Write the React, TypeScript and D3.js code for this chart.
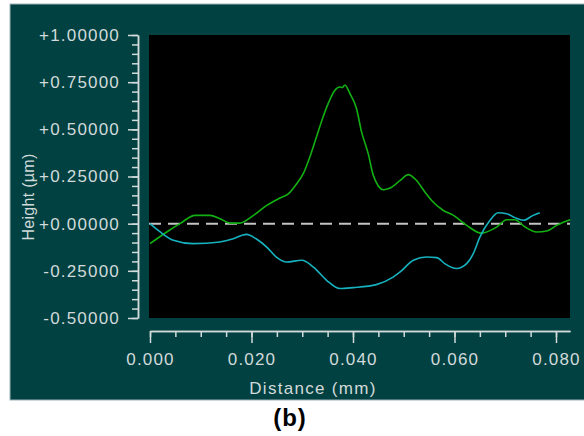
import React, { useEffect, useRef } from 'react';
import * as d3 from 'd3';

// profile traces (distance in mm, height in µm)
const greenDist = [0, 0.0033, 0.0059, 0.0089, 0.0118, 0.0138, 0.0158, 0.0177, 0.0204, 0.023, 0.0256, 0.0273, 0.0289, 0.0302, 0.0315, 0.0328, 0.0341, 0.0351, 0.0364, 0.0374, 0.0379, 0.0384, 0.0394, 0.0407, 0.0417, 0.043, 0.044, 0.046, 0.0473, 0.0493, 0.0509, 0.0522, 0.0542, 0.0555, 0.0578, 0.0598, 0.0624, 0.0653, 0.0683, 0.0703, 0.0719, 0.0739, 0.0762, 0.0782, 0.0801, 0.0828];
const greenHeight = [-0.106, -0.044, 0, 0.044, 0.044, 0.026, 0.003, 0.003, 0.044, 0.097, 0.136, 0.159, 0.212, 0.265, 0.353, 0.459, 0.565, 0.636, 0.706, 0.724, 0.722, 0.735, 0.689, 0.609, 0.485, 0.371, 0.256, 0.18, 0.189, 0.229, 0.26, 0.238, 0.167, 0.123, 0.07, 0.044, -0.009, -0.05, -0.018, 0.021, 0.021, -0.018, -0.044, -0.039, -0.009, 0.021];

const cyanDist = [0, 0.002, 0.0046, 0.0085, 0.0138, 0.0164, 0.019, 0.0209, 0.023, 0.0249, 0.0269, 0.0299, 0.0322, 0.0348, 0.0374, 0.04, 0.0446, 0.0479, 0.0493, 0.0519, 0.0545, 0.0565, 0.0581, 0.0604, 0.0624, 0.0637, 0.065, 0.067, 0.0686, 0.0703, 0.0719, 0.0736, 0.0755, 0.0768];
const cyanHeight = [0, -0.044, -0.088, -0.106, -0.097, -0.08, -0.057, -0.08, -0.124, -0.177, -0.203, -0.194, -0.23, -0.3, -0.344, -0.339, -0.323, -0.283, -0.256, -0.194, -0.177, -0.18, -0.212, -0.238, -0.212, -0.159, -0.071, 0.018, 0.058, 0.053, 0.032, 0.018, 0.044, 0.058];

const yMajorTicks = [-0.5, -0.25, 0, 0.25, 0.5, 0.75, 1.0];
const xMajorTicks = [0, 0.02, 0.04, 0.06, 0.08];

export default function App() {
  const ref = useRef<SVGSVGElement>(null);

  useEffect(() => {
    const svg = d3.select(ref.current);
    svg.selectAll('*').remove();

    const textCol = '#d2dada';
    const font = '"Liberation Sans", Arial, sans-serif';

    // panel
    svg.append('rect').attr('x', 10).attr('y', 4).attr('width', 580).attr('height', 396)
      .attr('fill', '#014141').attr('stroke', '#9fb3b8').attr('stroke-width', 1);

    const x = d3.scaleLinear().domain([0, 0.08276]).range([150, 570]);
    const y = d3.scaleLinear().domain([-0.5, 1.0]).range([318, 35]);

    svg.append('rect').attr('x', 149).attr('y', 35).attr('width', 421).attr('height', 283).attr('fill', '#000');

    // y axis (minor then major)
    const yMinor = svg.append('g').attr('transform', 'translate(138,0)')
      .call(d3.axisLeft(y).tickValues(d3.range(-0.5, 1.0001, 0.05)).tickSize(6).tickSizeOuter(0).tickFormat(() => ''));
    const yMajor = svg.append('g').attr('transform', 'translate(138,0)')
      .call(d3.axisLeft(y).tickValues(yMajorTicks).tickSize(10).tickSizeOuter(0).tickPadding(8)
        .tickFormat(d => ((+d >= 0 ? '+' : '-') + Math.abs(+d).toFixed(5))));

    const xMinor = svg.append('g').attr('transform', 'translate(0,331)')
      .call(d3.axisBottom(x).tickValues(d3.range(0, 0.0801, 0.005)).tickSize(6).tickSizeOuter(0).tickFormat(() => ''));
    const xMajor = svg.append('g').attr('transform', 'translate(0,331)')
      .call(d3.axisBottom(x).tickValues(xMajorTicks).tickSize(12).tickSizeOuter(0).tickPadding(10)
        .tickFormat(d => (+d).toFixed(3)));

    [yMinor, yMajor, xMinor, xMajor].forEach(g => {
      g.selectAll('path, line').attr('stroke', textCol).attr('stroke-width', 1.5);
      g.selectAll('text').attr('fill', textCol).style('font-family', font)
        .style('font-size', '17px').style('letter-spacing', '1.2px');
    });

    // zero reference
    svg.append('line').attr('x1', 149).attr('x2', 570).attr('y1', y(0)).attr('y2', y(0))
      .attr('stroke', '#c4c4c4').attr('stroke-width', 2).attr('stroke-dasharray', '12,7');

    const line = d3.line<[number, number]>().x(d => x(d[0])).y(d => y(d[1])).curve(d3.curveMonotoneX);

    svg.append('path').datum(greenDist.map((d, i) => [d, greenHeight[i]] as [number, number]))
      .attr('d', line).attr('fill', 'none').attr('stroke', '#12b012').attr('stroke-width', 1.6);
    svg.append('path').datum(cyanDist.map((d, i) => [d, cyanHeight[i]] as [number, number]))
      .attr('d', line).attr('fill', 'none').attr('stroke', '#16b2bf').attr('stroke-width', 1.6);

    svg.append('text').attr('x', 313).attr('y', 394).attr('text-anchor', 'middle')
      .attr('fill', textCol).style('font-family', font).style('font-size', '17px').style('letter-spacing', '1.3px')
      .text('Distance (mm)');

    svg.append('text').attr('transform', 'translate(34,197) rotate(-90)').attr('text-anchor', 'middle')
      .attr('fill', textCol).style('font-family', font).style('font-size', '16px').style('letter-spacing', '0.3px')
      .text('Height (µm)');

    svg.append('text').attr('x', 290).attr('y', 426).attr('text-anchor', 'middle')
      .attr('fill', '#000').style('font-family', font)
      .style('font-size', '24px').style('font-weight', 'bold').style('letter-spacing', '1px')
      .text('(b)');
  }, []);

  return (
    <svg ref={ref} width={584} height={436}
      style={{ position: 'absolute', left: 0, top: 0, background: '#fff' }} />
  );
}
